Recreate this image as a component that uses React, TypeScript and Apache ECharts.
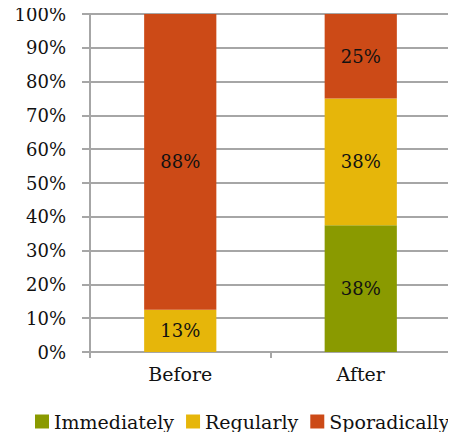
import React, { useEffect, useRef } from "react";
import * as echarts from "echarts";

const categories = ["Before", "After"];
const immediately = [0, 37.5];
const regularly = [12.5, 37.5];
const sporadically = [87.5, 25];
const yTicks = ["0%", "10%", "20%", "30%", "40%", "50%", "60%", "70%", "80%", "90%", "100%"];

const FONT = "'DejaVu Serif', 'Liberation Serif', serif";
const GRAY = "#a6a6a6";

export default function App() {
  const ref = useRef<HTMLDivElement>(null);
  useEffect(() => {
    if (!ref.current) return;
    const chart = echarts.init(ref.current, null, { renderer: "svg" });
    const label = {
      show: true,
      position: "inside",
      color: "#111",
      fontFamily: FONT,
      fontSize: 18,
      formatter: (p: any) => (p.value > 0 ? Math.round(p.value) + "%" : ""),
    };
    const mk = (name: string, data: number[], color: string) => ({
      name,
      type: "bar",
      stack: "total",
      data,
      barWidth: "40%",
      itemStyle: { color },
      label,
    });
    chart.setOption({
      animation: false,
      textStyle: { fontFamily: FONT },
      grid: { left: 90, right: 5, top: 14, bottom: 88, containLabel: false },
      legend: {
        bottom: 9,
        left: 35,
        width: 421,
        padding: 0,
        icon: "rect",
        itemWidth: 14,
        itemHeight: 14,
        itemGap: 12,
        itemStyle: { borderWidth: 0 },
        textStyle: { fontFamily: FONT, fontSize: 19, color: "#111" },
        data: ["Immediately", "Regularly", "Sporadically"],
      },
      xAxis: {
        type: "category",
        data: categories,
        axisLine: { lineStyle: { color: GRAY, width: 2 } },
        axisTick: { show: true, length: 6, lineStyle: { color: GRAY, width: 2 } },
        axisLabel: { fontFamily: FONT, fontSize: 19, color: "#111", margin: 12 },
      },
      yAxis: {
        type: "value",
        min: 0,
        max: 100,
        interval: 10,
        axisLine: { show: true, lineStyle: { color: GRAY, width: 2 } },
        axisTick: { show: true, length: 8, lineStyle: { color: GRAY, width: 2 } },
        splitLine: { lineStyle: { color: GRAY, width: 2 } },
        axisLabel: {
          fontFamily: FONT,
          fontSize: 18,
          color: "#111",
          margin: 24,
          formatter: (v: number) => yTicks[Math.round(v / 10)],
        },
      },
      series: [
        mk("Immediately", immediately, "#8a9a00"),
        mk("Regularly", regularly, "#e6b60a"),
        mk("Sporadically", sporadically, "#cc4a17"),
      ],
    });
    return () => chart.dispose();
  }, []);
  return <div ref={ref} style={{ width: 456, height: 440, margin: -8 }} />;
}
